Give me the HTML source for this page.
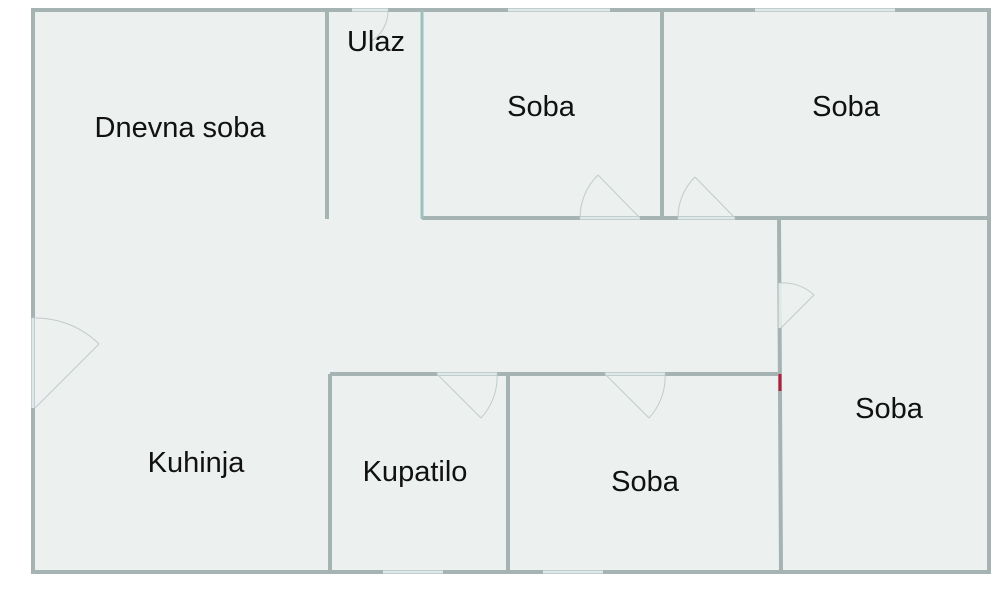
<!DOCTYPE html>
<html><head><meta charset="utf-8"><style>
html,body{margin:0;padding:0;background:#fff;}
svg{display:block}
text{font-family:"Liberation Sans",sans-serif;font-size:29px;fill:#111;text-anchor:middle}
</style></head><body>
<svg width="1000" height="589" viewBox="0 0 1000 589">
<rect x="33" y="10" width="956" height="563" fill="#ecf0ef"/>
<g stroke="#a6b3b3" stroke-width="4" fill="none">
<line x1="31" y1="10" x2="991" y2="10"/>
<line x1="33" y1="8" x2="33" y2="574"/>
<line x1="989" y1="8" x2="989" y2="574"/>
<line x1="31" y1="572" x2="991" y2="572"/>
<line x1="327" y1="10" x2="327" y2="219"/>
<line x1="662" y1="10" x2="662" y2="219"/>
<line x1="422" y1="218" x2="989" y2="218"/>
<line x1="779" y1="218" x2="781" y2="573"/>
<line x1="330" y1="374" x2="780" y2="374"/>
<line x1="330" y1="374" x2="330" y2="573"/>
<line x1="508" y1="374" x2="508" y2="573"/>
</g>
<line x1="422" y1="10" x2="422" y2="219" stroke="#9cc2bb" stroke-width="3"/>
<line x1="780" y1="374" x2="780" y2="391" stroke="#b0203a" stroke-width="3"/>
<g stroke="#dfe8e8" stroke-width="3">
<line x1="352" y1="10" x2="388" y2="10"/>
<line x1="508" y1="10" x2="610" y2="10"/>
<line x1="755" y1="10" x2="895" y2="10"/>
<line x1="580" y1="218" x2="640" y2="218"/>
<line x1="678" y1="218" x2="735" y2="218"/>
<line x1="780" y1="283" x2="780" y2="328"/>
<line x1="33" y1="318" x2="33" y2="408"/>
<line x1="437" y1="374" x2="497" y2="374"/>
<line x1="605" y1="374" x2="665" y2="374"/>
<line x1="383" y1="572" x2="443" y2="572"/>
<line x1="543" y1="572" x2="603" y2="572"/>
</g>
<g stroke="#c2cbcb" stroke-width="1" fill="none">
<path d="M388 10 A36 36 0 0 1 370 42"/>
<path d="M580 218 A60 60 0 0 1 598 175"/><line x1="598" y1="175" x2="640" y2="218"/>
<path d="M678 218 A57 57 0 0 1 695 177"/><line x1="695" y1="177" x2="735" y2="218"/>
<path d="M780 283 A45 45 0 0 1 814 295"/><line x1="814" y1="295" x2="781" y2="328"/>
<path d="M33 318 A90 90 0 0 1 99 344"/><line x1="99" y1="344" x2="35" y2="408"/>
<path d="M497 374 A60 60 0 0 1 481 418"/><line x1="481" y1="418" x2="437" y2="374"/>
<path d="M665 374 A60 60 0 0 1 649 418"/><line x1="649" y1="418" x2="605" y2="374"/>
</g>
<text x="376" y="51">Ulaz</text>
<text x="180" y="137">Dnevna soba</text>
<text x="541" y="116">Soba</text>
<text x="846" y="116">Soba</text>
<text x="889" y="418">Soba</text>
<text x="645" y="491">Soba</text>
<text x="196" y="472">Kuhinja</text>
<text x="415" y="481">Kupatilo</text>
</svg>
</body></html>
